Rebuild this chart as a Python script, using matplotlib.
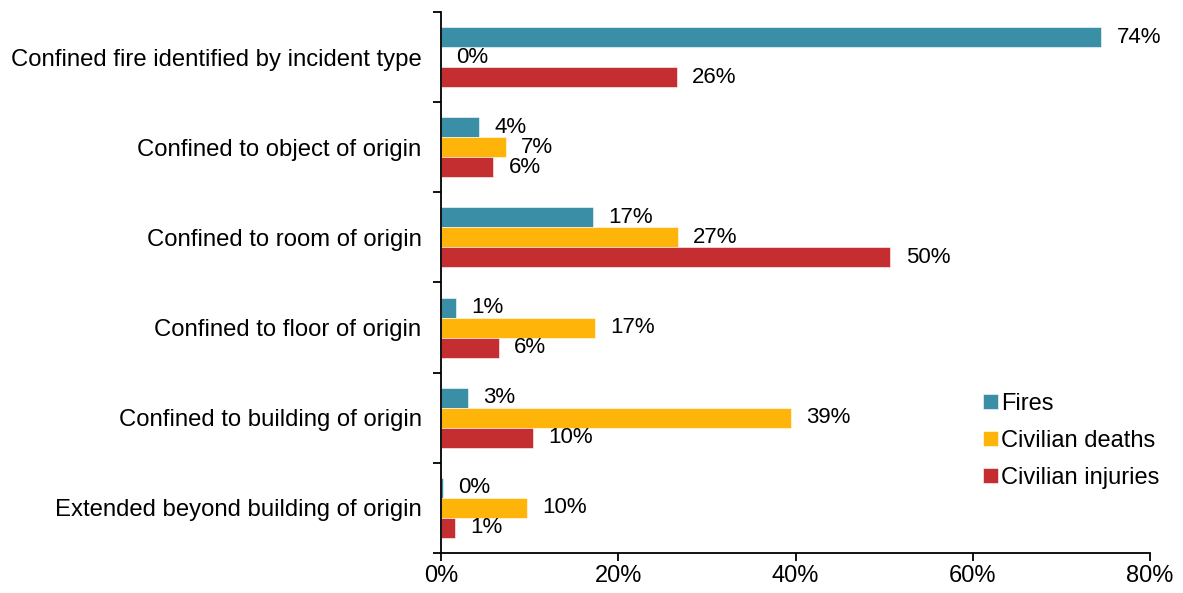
import numpy as np
import matplotlib
matplotlib.use("Agg")
import matplotlib.pyplot as plt
from matplotlib.ticker import FixedLocator, PercentFormatter

plt.rcParams["font.family"] = ["Liberation Sans", "DejaVu Sans"]

categories = [
    "Confined fire identified by incident type",
    "Confined to object of origin",
    "Confined to room of origin",
    "Confined to floor of origin",
    "Confined to building of origin",
    "Extended beyond building of origin",
]
fires = [74.5, 4.3, 17.1, 1.7, 3.0, 0.2]
deaths = [0.0, 7.3, 26.7, 17.4, 39.5, 9.7]
injuries = [26.6, 5.9, 50.7, 6.5, 10.4, 1.6]
fires_lbl = ["74%", "4%", "17%", "1%", "3%", "0%"]
deaths_lbl = ["0%", "7%", "27%", "17%", "39%", "10%"]
injuries_lbl = ["26%", "6%", "50%", "6%", "10%", "1%"]

series = [
    ("Fires", fires, fires_lbl, "#3A8FA7"),
    ("Civilian deaths", deaths, deaths_lbl, "#FFB40A"),
    ("Civilian injuries", injuries, injuries_lbl, "#C42E30"),
]

fig = plt.figure(figsize=(11.83, 5.93), dpi=100)
ax = fig.add_axes([0.3728, 0.0675, 0.5993, 0.9123])

y = np.arange(len(categories))
h = 0.222
for i, (name, vals, lbls, col) in enumerate(series):
    pos = y + (i - 1) * h
    ax.barh(pos, vals, height=h, color=col, label=name, edgecolor="white", linewidth=0.4)
    for p, v, t in zip(pos, vals, lbls):
        ax.annotate(t, (v, p), xytext=(11, 0), textcoords="offset points",
                    va="center", ha="left", fontsize=16)

ax.set_xlim(0, 80)
ax.set_ylim(len(categories) - 0.5, -0.5)
ax.set_xticks([0, 20, 40, 60, 80])
ax.xaxis.set_major_formatter(PercentFormatter(decimals=0))
ax.tick_params(axis="x", length=6, width=1.3, labelsize=17, pad=3)

ax.yaxis.set_major_locator(FixedLocator(np.arange(-0.5, len(categories), 1.0)))
ax.yaxis.set_minor_locator(FixedLocator(y))
ax.set_yticklabels([], minor=False)
ax.set_yticklabels(categories, minor=True)
ax.tick_params(axis="y", which="major", length=6, width=1.3)
ax.tick_params(axis="y", which="minor", length=0, labelsize=17.2, pad=14)

for s in ["top", "right"]:
    ax.spines[s].set_visible(False)
for s in ["left", "bottom"]:
    ax.spines[s].set_linewidth(1.3)

ax.legend(loc="center left", bbox_to_anchor=(0.735, 0.207), frameon=False, fontsize=17,
          handlelength=0.6, handleheight=0.6, handletextpad=0.15, labelspacing=0.63)

fig.savefig("out.png", dpi=100)
